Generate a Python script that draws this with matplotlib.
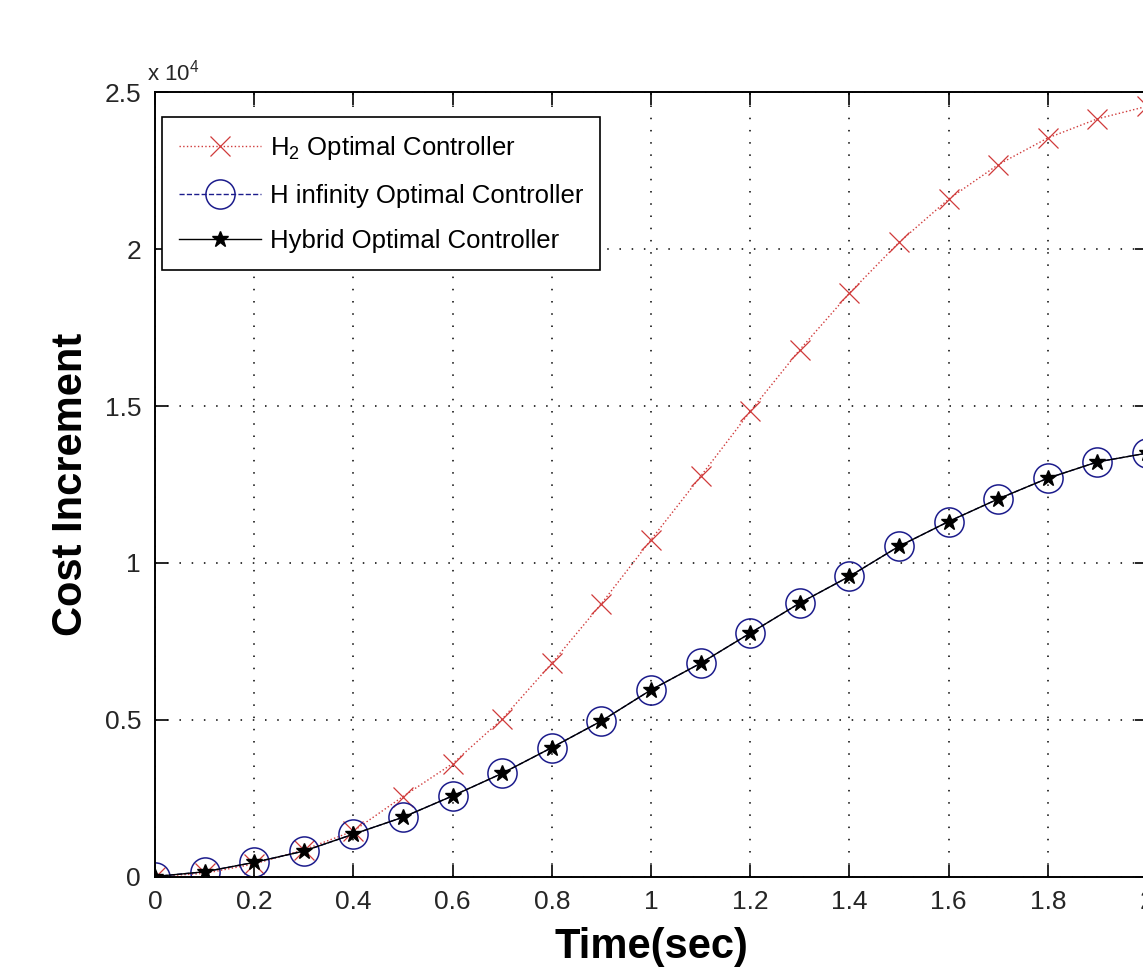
import matplotlib
matplotlib.use('Agg')
from matplotlib import pyplot as plt
from matplotlib.ticker import FuncFormatter

# time axis (sec)
time = [0.0, 0.1, 0.2, 0.3, 0.4, 0.5, 0.6, 0.7, 0.8, 0.9, 1.0,
        1.1, 1.2, 1.3, 1.4, 1.5, 1.6, 1.7, 1.8, 1.9, 2.0]

# cost increments
h2_cost = [0, 100, 400, 850, 1450, 2550, 3600, 5020, 6800, 8700, 10740,
           12760, 14830, 16800, 18600, 20220, 21600, 22700, 23550, 24160, 24560]
hinf_cost = [0, 150, 450, 810, 1350, 1890, 2570, 3290, 4110, 4960, 5950,
             6800, 7760, 8720, 9570, 10530, 11320, 12040, 12700, 13220, 13500]
hybrid_cost = [0, 150, 450, 810, 1350, 1890, 2570, 3290, 4110, 4960, 5950,
               6800, 7760, 8720, 9570, 10530, 11320, 12040, 12700, 13220, 13500]

labels = ['H$_2$ Optimal Controller', 'H infinity Optimal Controller',
          'Hybrid Optimal Controller']
xticks = [0, 0.2, 0.4, 0.6, 0.8, 1, 1.2, 1.4, 1.6, 1.8, 2]
yticks = [0, 5000, 10000, 15000, 20000, 25000]

plt.rcParams['font.family'] = ['Liberation Sans', 'DejaVu Sans']
plt.rcParams['mathtext.fontset'] = 'custom'
plt.rcParams['mathtext.rm'] = 'Liberation Sans'
plt.rcParams['mathtext.it'] = 'Liberation Sans:italic'

W, H = 1143, 969
fig = plt.figure(figsize=(W / 100, H / 100), dpi=100)
left, right, bottom, top = 155, 1147, 876.5, 92.5
ax = fig.add_axes([left / W, 1 - bottom / H, (right - left) / W, (bottom - top) / H])

ax.plot(time, h2_cost, linestyle=':', color='#d03a3a', linewidth=1.0,
        marker='x', markersize=14, markeredgewidth=0.9, label=labels[0])
ax.plot(time, hinf_cost, linestyle='--', color='#1c1c8c', linewidth=1.0,
        marker='o', markersize=21, markerfacecolor='none', markeredgewidth=1.1,
        label=labels[1])
ax.plot(time, hybrid_cost, linestyle='-', color='black', linewidth=1.0,
        marker='*', markersize=12, label=labels[2])

ax.set_xlim(0, 2)
ax.set_ylim(0, 25000)
ax.set_xticks(xticks)
ax.set_yticks(yticks)
ax.xaxis.set_major_formatter(FuncFormatter(lambda v, p: f'{v:g}'))
ax.yaxis.set_major_formatter(FuncFormatter(lambda v, p: f'{v / 1e4:g}'))
ax.tick_params(direction='in', length=9, width=1.2, labelsize=19, pad=10,
               top=True, right=True, labelcolor='#262626')
ax.grid(True, color='black', linestyle=(0, (1, 7)), linewidth=1.1)
for s in ax.spines.values():
    s.set_linewidth(1.4)

ax.set_xlabel('Time(sec)', fontsize=30, fontweight='bold', va='top')
ax.xaxis.set_label_coords(0.5, (bottom - 927) / (bottom - top))
ax.set_ylabel('Cost Increment', fontsize=30, fontweight='bold')
ax.yaxis.set_label_coords((91 - left) / (right - left), 0.5)

fig.text(147 / W, 1 - 80 / H, r'x 10$^4$', fontsize=16, va='baseline',
         color='#262626')

leg = ax.legend(loc='upper left', bbox_to_anchor=(162 / W, 1 - 117 / H),
                bbox_transform=fig.transFigure, fontsize=18.5, fancybox=False,
                framealpha=1, edgecolor='black', handlelength=3.2,
                handletextpad=0.35, borderpad=0.65, labelspacing=0.85,
                borderaxespad=0)
leg.get_frame().set_linewidth(1.2)

fig.savefig('out.png', dpi=100)
